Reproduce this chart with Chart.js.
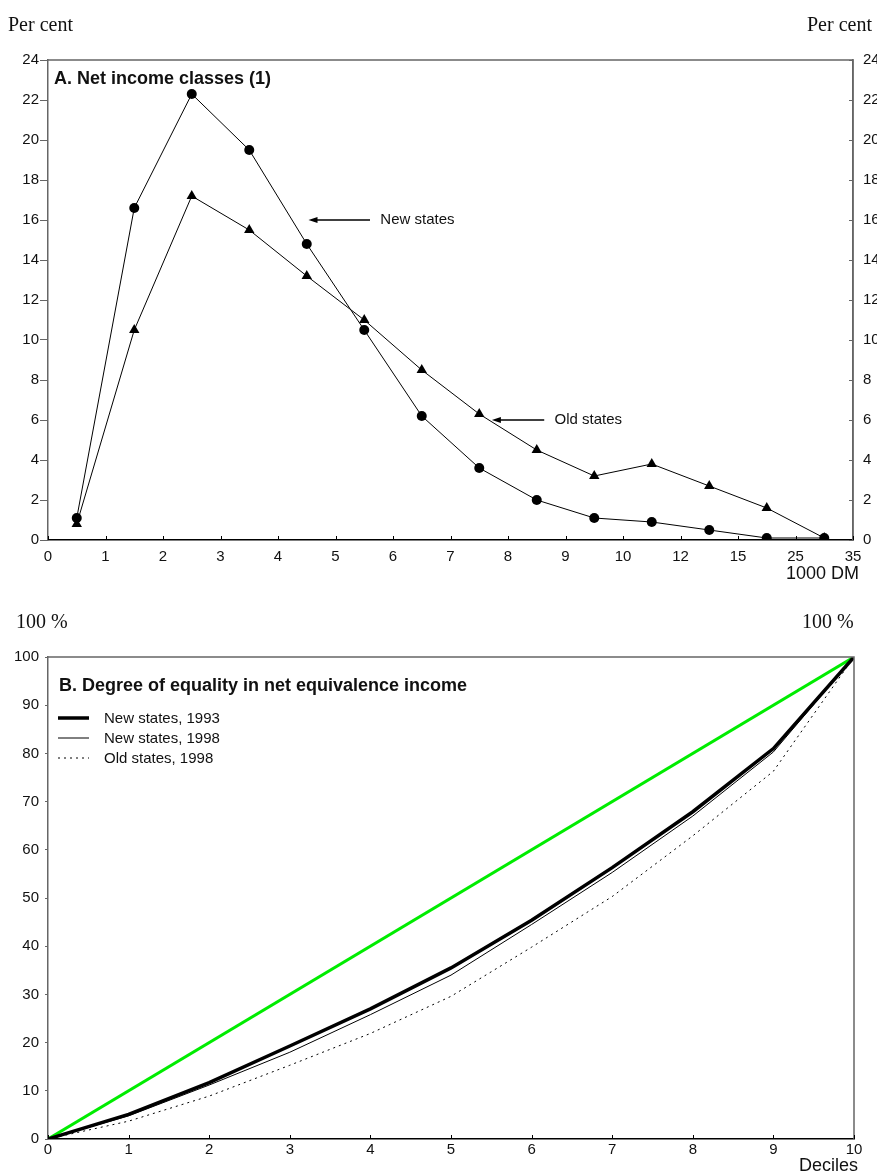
<!DOCTYPE html>
<html>
<head>
<meta charset="utf-8">
<script src="https://cdn.jsdelivr.net/npm/chart.js@4/dist/chart.umd.min.js"></script>
<style>
  html,body{margin:0;padding:0;background:#fff;}
  body{width:877px;height:1173px;position:relative;overflow:hidden;}
  canvas{position:absolute;left:0;}
  #c1{top:0;}
  #c2{top:600px;}
</style>
</head>
<body>
<canvas id="c1" width="877" height="600"></canvas>
<canvas id="c2" width="877" height="573"></canvas>
<script>
// panel A: share of households by net income class (per cent)
var incomeTicks = ['0','1','2','3','4','5','6','7','8','9','10','12','15','25','35'];
var newStates = [1.1, 16.6, 22.3, 19.5, 14.8, 10.5, 6.2, 3.6, 2.0, 1.1, 0.9, 0.5, 0.1, 0.1];
var oldStates = [0.8, 10.5, 17.2, 15.5, 13.2, 11.0, 8.5, 6.3, 4.5, 3.2, 3.8, 2.7, 1.6, 0.1];

// panel B: cumulative share of income by decile (Lorenz curves)
var deciles = [0, 1, 2, 3, 4, 5, 6, 7, 8, 9, 10];
var new1993 = [0, 5.1, 11.7, 19.3, 27.0, 35.5, 45.4, 56.3, 67.9, 81.0, 100];
var new1998 = [0, 4.8, 11.2, 18.0, 25.8, 34.0, 44.5, 55.3, 67.0, 80.3, 100];
var old1998 = [0, 3.7, 8.9, 15.3, 21.9, 29.6, 39.8, 50.3, 62.9, 76.3, 100];
var equalX = [0, 10];
var equalY = [0, 100];

var SANS = "'Liberation Sans', Arial, sans-serif";
var SERIF = "'Liberation Serif', 'Times New Roman', serif";
Chart.defaults.font.family = SANS;
Chart.defaults.font.size = 15;
Chart.defaults.color = '#111';

function classPts(vals){ return vals.map(function(v,i){ return {x:i+0.5, y:v}; }); }
function xyPts(xs, ys){ return xs.map(function(x,i){ return {x:x, y:ys[i]}; }); }

// gray frame on top and right of plot area
var frame = {
  id:'frame',
  afterDatasetsDraw:function(ch){
    var a = ch.chartArea, c = ch.ctx;
    c.save();
    c.strokeStyle = '#666'; c.lineWidth = 1.5;
    c.beginPath();
    c.moveTo(a.left, a.top); c.lineTo(a.right, a.top); c.lineTo(a.right, a.bottom);
    c.stroke();
    c.restore();
  }
};

// small tick marks pointing into the plot
var inTicks = {
  id:'inTicks',
  afterDraw:function(ch, args, o){
    var c = ch.ctx, a = ch.chartArea;
    c.save(); c.strokeStyle = '#000'; c.lineWidth = 1;
    var x = ch.scales.x;
    x.ticks.forEach(function(t){
      var px = Math.round(x.getPixelForValue(t.value)) + 0.5;
      c.beginPath(); c.moveTo(px, a.bottom); c.lineTo(px, a.bottom - 4); c.stroke();
    });
    if (o.right && ch.scales.y2) {
      var y = ch.scales.y2;
      c.strokeStyle = '#666';
      y.ticks.forEach(function(t){
        var py = Math.round(y.getPixelForValue(t.value)) + 0.5;
        c.beginPath(); c.moveTo(a.right - 4, py); c.lineTo(a.right, py); c.stroke();
      });
    }
    c.restore();
  }
};

// free text on the canvas
var texts = {
  id:'texts',
  afterDraw:function(ch, args, o){
    var c = ch.ctx;
    c.save(); c.fillStyle = '#111'; c.textBaseline = 'alphabetic';
    (o.items || []).forEach(function(t){
      c.font = t.font; c.textAlign = t.align || 'left';
      c.fillText(t.text, t.x, t.y);
    });
    c.restore();
  }
};

// arrows with labels, anchored in data units
var notes = {
  id:'notes',
  afterDatasetsDraw:function(ch, args, o){
    var c = ch.ctx, xs = ch.scales.x, ys = ch.scales.y;
    c.save();
    (o.items || []).forEach(function(n){
      var tip = xs.getPixelForValue(n.tip), tail = xs.getPixelForValue(n.tail);
      var py = ys.getPixelForValue(n.y), tx = xs.getPixelForValue(n.textAt);
      c.strokeStyle = '#000'; c.fillStyle = '#000'; c.lineWidth = 1.5;
      c.beginPath(); c.moveTo(tip + 6, py); c.lineTo(tail, py); c.stroke();
      c.beginPath(); c.moveTo(tip, py); c.lineTo(tip + 9, py - 3); c.lineTo(tip + 9, py + 3); c.closePath(); c.fill();
      c.fillStyle = '#111'; c.font = '15px ' + SANS; c.textAlign = 'left'; c.textBaseline = 'middle';
      c.fillText(n.text, tx, py);
    });
    c.restore();
  }
};

// legend with line samples inside panel B
var lineKey = {
  id:'lineKey',
  afterDraw:function(ch, args, o){
    var c = ch.ctx;
    c.save();
    o.rows.forEach(function(r, i){
      var y = o.y + i * o.step;
      c.strokeStyle = '#000'; c.lineWidth = r.width; c.setLineDash(r.dash || []);
      c.beginPath(); c.moveTo(o.x, y); c.lineTo(o.x + 31, y); c.stroke();
      c.setLineDash([]);
      c.fillStyle = '#111'; c.font = '15px ' + SANS; c.textAlign = 'left'; c.textBaseline = 'middle';
      c.fillText(r.text, o.x + 46, y + 1);
    });
    c.restore();
  }
};

new Chart(document.getElementById('c1'), {
  type:'line',
  data:{datasets:[
    {label:'New states', data:classPts(newStates), borderColor:'#000', borderWidth:1,
     pointStyle:'circle', pointRadius:5, pointBackgroundColor:'#000', pointBorderWidth:0, tension:0},
    {label:'Old states', data:classPts(oldStates), borderColor:'#000', borderWidth:1,
     pointStyle:'triangle', pointRadius:6, pointBackgroundColor:'#000', pointBorderWidth:0, tension:0}
  ]},
  options:{
    responsive:false, animation:false, devicePixelRatio:1,
    layout:{padding:{top:60}},
    plugins:{
      legend:{display:false}, tooltip:{enabled:false},
      inTicks:{right:true},
      texts:{items:[
        {text:'A. Net income classes (1)', x:54, y:84, font:'bold 18px ' + SANS},
        {text:'Per cent', x:8, y:31, font:'20px ' + SERIF},
        {text:'Per cent', x:807, y:31, font:'20px ' + SERIF},
        {text:'1000 DM', x:859, y:579, font:'18px ' + SANS, align:'right'}
      ]},
      notes:{items:[
        {text:'New states', tip:4.53, tail:5.6, textAt:5.78, y:16},
        {text:'Old states', tip:7.72, tail:8.63, textAt:8.81, y:6}
      ]}
    },
    scales:{
      x:{type:'linear', min:0, max:14, afterFit:function(s){ s.height = 60; },
         ticks:{stepSize:1, autoSkip:false, maxRotation:0, padding:8,
                callback:function(v){ return incomeTicks[v]; }},
         grid:{drawOnChartArea:false, drawTicks:false}, border:{color:'#000', width:1.5}},
      y:{min:0, max:24, afterFit:function(s){ s.width = 48; },
         ticks:{stepSize:2, padding:1},
         grid:{drawOnChartArea:false, tickLength:8, color:'#666'}, border:{color:'#666', width:1.5}},
      y2:{position:'right', min:0, max:24, afterFit:function(s){ s.width = 24; },
          ticks:{stepSize:2, padding:10},
          grid:{drawOnChartArea:false, drawTicks:false}, border:{color:'#666', width:1.5}}
    }
  },
  plugins:[frame, inTicks, texts, notes]
});

new Chart(document.getElementById('c2'), {
  type:'line',
  data:{datasets:[
    {label:'Equality', data:xyPts(equalX, equalY), borderColor:'#00ec00', borderWidth:3, pointRadius:0, order:3},
    {label:'New states, 1993', data:xyPts(deciles, new1993), borderColor:'#000', borderWidth:3.5, pointRadius:0, order:0},
    {label:'New states, 1998', data:xyPts(deciles, new1998), borderColor:'#000', borderWidth:1, pointRadius:0, order:1},
    {label:'Old states, 1998', data:xyPts(deciles, old1998), borderColor:'#000', borderWidth:1, borderDash:[2,4], pointRadius:0, order:2}
  ]},
  options:{
    responsive:false, animation:false, devicePixelRatio:1,
    layout:{padding:{top:57, right:23}},
    plugins:{
      legend:{display:false}, tooltip:{enabled:false},
      texts:{items:[
        {text:'B. Degree of equality in net equivalence income', x:59, y:91, font:'bold 18px ' + SANS},
        {text:'100 %', x:16, y:28, font:'20px ' + SERIF},
        {text:'100 %', x:802, y:28, font:'20px ' + SERIF},
        {text:'Deciles', x:858, y:571, font:'18px ' + SANS, align:'right'}
      ]},
      lineKey:{x:58, y:118, step:20, rows:[
        {text:'New states, 1993', width:3.5},
        {text:'New states, 1998', width:1},
        {text:'Old states, 1998', width:1, dash:[2,4]}
      ]}
    },
    scales:{
      x:{type:'linear', min:0, max:10, afterFit:function(s){ s.height = 34; },
         ticks:{stepSize:1, autoSkip:false, maxRotation:0, padding:2},
         grid:{drawOnChartArea:false, drawTicks:false}, border:{color:'#000', width:1.5}},
      y:{min:0, max:100, afterFit:function(s){ s.width = 48; },
         ticks:{stepSize:10, padding:6},
         grid:{drawOnChartArea:false, tickLength:3, color:'#666'}, border:{color:'#666', width:1.5}}
    }
  },
  plugins:[frame, inTicks, texts, lineKey]
});
</script>
</body>
</html>
